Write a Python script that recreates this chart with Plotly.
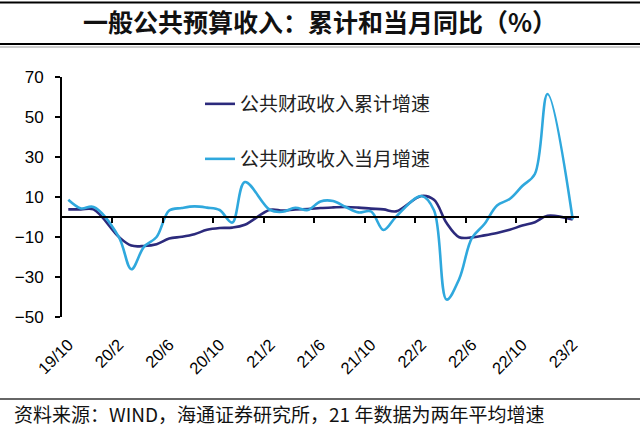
import plotly.graph_objects as go

# ---------------- data ----------------
months = ["19/10", "19/11", "19/12", "20/1", "20/2", "20/3", "20/4", "20/5", "20/6", "20/7",
          "20/8", "20/9", "20/10", "20/11", "20/12", "21/1", "21/2", "21/3", "21/4", "21/5",
          "21/6", "21/7", "21/8", "21/9", "21/10", "21/11", "21/12", "22/1", "22/2", "22/3",
          "22/4", "22/5", "22/6", "22/7", "22/8", "22/9", "22/10", "22/11", "22/12", "23/1",
          "23/2"]

# 公共财政收入累计增速 (%), January not published (None)
cum_growth = [3.8, 3.8, 3.8, None, -9.9, -14.3, -14.5, -13.6, -10.8, -9.9,
              -8.6, -6.4, -5.5, -5.3, -3.9, None, 3.6, 3.2, 3.8, 4.0,
              4.5, 4.8, 5.0, 4.7, 4.2, 3.8, 2.8, None, 10.5, 8.6,
              -3.0, -10.1, -10.2, -9.2, -8.0, -6.4, -4.3, -2.6, 0.6, None,
              -1.2]

# 公共财政收入当月增速 (%)
mon_growth = [8.6, 4.3, 5.0, None, -9.9, -26.1, -14.9, -10.0, 3.2, 4.5,
              5.3, 4.7, 3.5, -2.8, 17.5, None, 3.5, 2.6, 4.6, 3.5,
              7.8, 8.0, 5.0, 2.3, 2.8, -6.5, 0.2, None, 10.5, 3.4,
              -41.3, -31.0, -10.6, -3.5, 5.8, 9.0, 15.5, 21.5, 61.5, None,
              -1.2]

y_ticks = [-50, -30, -10, 10, 30, 50, 70]
label_step = 4

name_cum = "公共财政收入累计增速"
name_mon = "公共财政收入当月增速"
title_text = "一般公共预算收入：累计和当月同比（%）"
source_text = "资料来源：WIND，海通证券研究所，21 年数据为两年平均增速"

# ---------------- figure ----------------
x = list(range(len(months)))
tickvals = [i for i in x if i % label_step == 0]
ticktext = [months[i] for i in tickvals]
boundary_ticks = [i - 0.5 for i in x if i % label_step == 0 and i > 0]

DARK = "#2C2A7C"
LIGHT = "#2FA8DD"

fig = go.Figure()
fig.add_trace(go.Scatter(x=x, y=cum_growth, name=name_cum, mode="lines",
                         connectgaps=True,
                         line=dict(color=DARK, width=2.6, shape="spline", smoothing=1.0),
                         legend="legend"))
fig.add_trace(go.Scatter(x=x, y=mon_growth, name=name_mon, mode="lines",
                         connectgaps=True,
                         line=dict(color=LIGHT, width=2.6, shape="spline", smoothing=1.0),
                         legend="legend2"))
# helper (empty) trace so the zero-line axis with tick marks is drawn
fig.add_trace(go.Scatter(x=[None], y=[None], xaxis="x2", showlegend=False,
                         hoverinfo="skip"))

L, R, T, B = 62, 61, 77, 113
W, H = 640, 430
pw, ph = W - L - R, H - T - B


def px(xp):
    return (xp - L) / pw


def py(yp):
    return (H - B - yp) / ph


ymin, ymax = y_ticks[0], y_ticks[-1]
zero_pos = (0 - ymin) / (ymax - ymin)
xr = [-0.5, len(months) - 0.5]

fig.update_layout(
    width=W, height=H,
    margin=dict(l=L, r=R, t=T, b=B),
    paper_bgcolor="white", plot_bgcolor="white",
    font=dict(family="Liberation Sans, Arial", color="black"),
    title=dict(text="<b>" + title_text + "</b>", x=0.5, xref="container", xanchor="center",
               y=1 - 23 / H, yref="container", yanchor="middle",
               font=dict(family="Noto Sans CJK SC", size=25, color="#111")),
    xaxis=dict(range=xr, tickmode="array", tickvals=tickvals, ticktext=ticktext,
               tickangle=-45, showline=False, ticks="", showgrid=False, zeroline=False,
               tickfont=dict(family="Liberation Sans, Arial", size=16.5, color="black"),
               ticklabelstandoff=14),
    xaxis2=dict(range=xr, overlaying="x", anchor="free", position=zero_pos,
                tickmode="array", tickvals=boundary_ticks, showticklabels=False,
                ticks="outside", ticklen=5, tickwidth=1.5, tickcolor="black",
                showline=True, linecolor="black", linewidth=2,
                showgrid=False, zeroline=False),
    yaxis=dict(range=[ymin, ymax], tickmode="array", tickvals=y_ticks,
               showline=True, linecolor="black", linewidth=2,
               ticks="outside", ticklen=5, tickwidth=1.5, tickcolor="black",
               showgrid=False, zeroline=False,
               tickfont=dict(family="Liberation Sans, Arial", size=17, color="black"),
               ticklabelstandoff=8),
    legend=dict(x=px(200), y=py(104), xanchor="left", yanchor="middle",
                bgcolor="rgba(0,0,0,0)",
                font=dict(family="Noto Sans CJK SC", size=19, color="#222")),
    legend2=dict(x=px(200), y=py(159), xanchor="left", yanchor="middle",
                 bgcolor="rgba(0,0,0,0)",
                 font=dict(family="Noto Sans CJK SC", size=19, color="#222")),
    showlegend=True,
)

# decorative rules (title band and source line)
for yy, wdt, col in [(2.5, 2, "black"), (44, 2, "black"), (47, 1, "#999"), (399, 1.5, "#333")]:
    fig.add_shape(type="line", xref="paper", yref="paper",
                  x0=px(0), x1=px(W), y0=py(yy), y1=py(yy),
                  line=dict(color=col, width=wdt))

fig.add_annotation(text=source_text, xref="paper", yref="paper",
                   x=px(12), y=py(413), xanchor="left", yanchor="middle",
                   showarrow=False,
                   font=dict(family="Noto Sans CJK SC", size=19, color="#111"))

fig.write_html("out.html", config={"displayModeBar": False},
               post_script="document.body.style.margin='0px';")
